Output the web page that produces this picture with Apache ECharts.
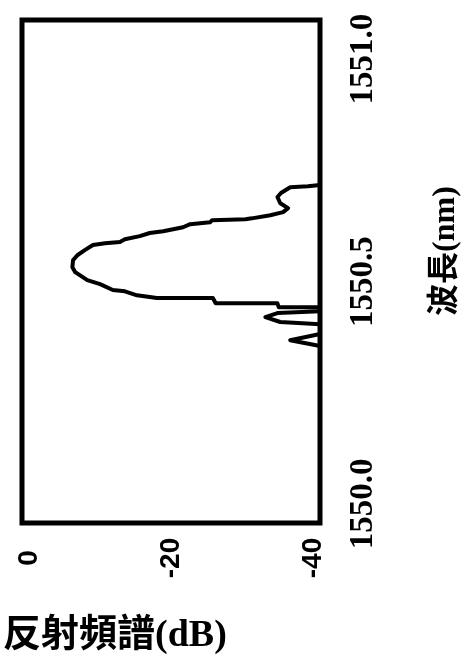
<!DOCTYPE html>
<html>
<head>
<meta charset="utf-8">
<script src="https://cdn.jsdelivr.net/npm/echarts@6/dist/echarts.min.js"></script>
<style>
  html, body { margin: 0; padding: 0; background: #fff; }
  #chart { width: 470px; height: 671px; }
</style>
</head>
<body>
<div id="chart"></div>
<script>
var wavelengthNm = [
  1551.088, 1550.717, 1550.714, 1550.712, 1550.699, 1550.690, 1550.676, 1550.665,
  1550.656, 1550.649, 1550.642, 1550.640, 1550.638, 1550.633, 1550.629, 1550.622,
  1550.613, 1550.609, 1550.602, 1550.595, 1550.589, 1550.586, 1550.582, 1550.571,
  1550.559, 1550.548, 1550.532, 1550.521, 1550.503, 1550.494, 1550.481, 1550.478,
  1550.469, 1550.465, 1550.463, 1550.463, 1550.463, 1550.451, 1550.451, 1550.442,
  1550.442, 1550.433, 1550.429, 1550.420, 1550.409, 1550.404, 1550.382, 1550.368,
  1550.355, 1549.957
];
var reflectionDb = [
  -41.0, -41.0, -39.3, -36.8, -35.5, -35.0, -35.4, -36.5,
  -35.8, -34.0, -31.4, -30.5, -25.8, -25.5, -22.7, -21.7,
  -18.9, -17.0, -15.6, -13.5, -12.8, -10.7, -9.0, -7.9,
  -6.8, -6.2, -6.1, -6.5, -8.2, -10.0, -11.8, -13.5,
  -15.2, -17.0, -18.0, -21.3, -25.9, -26.3, -35.0, -35.2,
  -41.0, -41.0, -35.0, -33.3, -35.4, -41.0, -41.0, -36.8,
  -41.0, -41.0
];
var wavelengthTicks = [1550.0, 1550.5, 1551.0];
var dbTicks = [0, -20, -40];

var trace = [];
for (var i = 0; i < wavelengthNm.length; i++) {
  trace.push([reflectionDb[i], wavelengthNm[i]]);
}

var myChart = echarts.init(document.getElementById("chart"));
myChart.setOption({
  animation: false,
  grid: {
    left: 22,
    right: 150,
    top: 20,
    bottom: 148,
    show: true,
    borderColor: "#000",
    borderWidth: 5,
    backgroundColor: "transparent"
  },
  title: {
    text: "反射頻譜(dB)",
    left: 3,
    top: 617,
    padding: 0,
    textStyle: {
      fontFamily: "Liberation Serif, Noto Sans CJK TC",
      fontWeight: "bold",
      fontSize: 38,
      color: "#000"
    }
  },
  xAxis: {
    type: "value",
    min: -41,
    max: 1,
    inverse: true,
    position: "bottom",
    axisLine: { show: false },
    axisTick: { show: false },
    splitLine: { show: false },
    axisLabel: {
      customValues: dbTicks,
      rotate: 90,
      align: "center",
      verticalAlign: "middle",
      margin: 35,
      fontFamily: "Liberation Sans",
      fontWeight: "bold",
      fontSize: 28,
      color: "#000"
    }
  },
  yAxis: {
    type: "value",
    min: 1549.957,
    max: 1551.088,
    position: "right",
    axisLine: { show: false },
    axisTick: { show: false },
    splitLine: { show: false },
    axisLabel: {
      customValues: wavelengthTicks,
      rotate: 90,
      align: "center",
      verticalAlign: "middle",
      margin: 43,
      fontFamily: "Liberation Serif",
      fontWeight: "bold",
      fontSize: 33,
      color: "#000",
      formatter: function (v) {
        return v.toFixed(1);
      }
    }
  },
  graphic: [
    {
      type: "text",
      x: 446,
      y: 251,
      rotation: Math.PI / 2,
      style: {
        text: "波長(nm)",
        align: "center",
        verticalAlign: "middle",
        fontFamily: "Liberation Serif, Noto Sans CJK TC",
        fontWeight: "bold",
        fontSize: 32,
        fill: "#000"
      }
    }
  ],
  series: [
    {
      type: "line",
      data: trace,
      symbol: "none",
      clip: true,
      lineStyle: {
        color: "#000",
        width: 4,
        join: "round"
      }
    }
  ]
});
</script>
</body>
</html>
